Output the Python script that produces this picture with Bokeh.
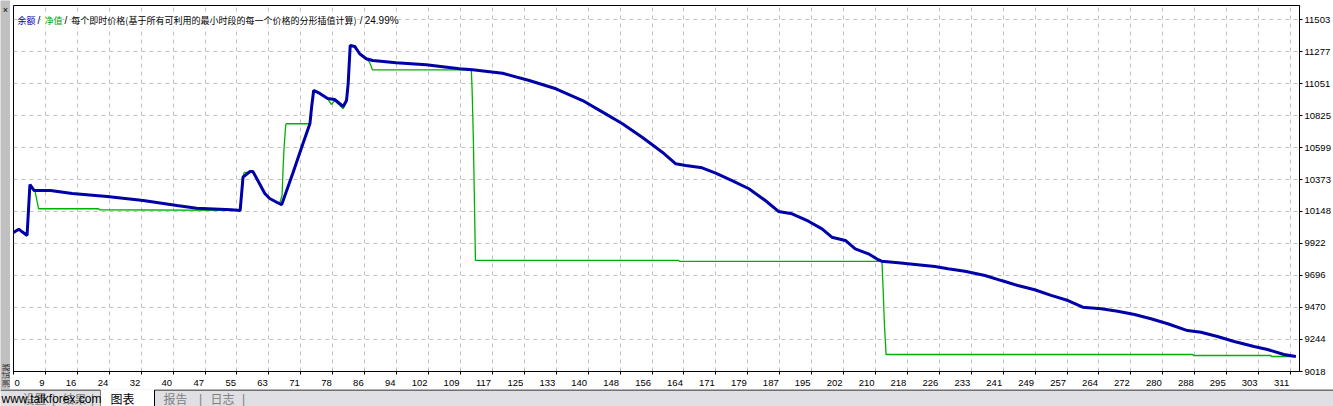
from bokeh.plotting import figure
from bokeh.models import Range1d, FixedTicker, Label
from bokeh.layouts import row, column
from bokeh.embed import file_html
from bokeh.resources import INLINE
from math import pi

# ---------------- data ----------------
balance_x = [0, 1.3, 2.1, 3.0, 3.3, 4.0, 5.0, 9.0, 14.3, 22.8, 31.6, 39.8, 44.6, 53.1, 55.2,
             55.9, 57.6, 58.3, 59.5, 61.2, 62.4, 64.1, 65.3, 68.0, 70.5, 72.2, 72.6, 73.1,
             74.6, 76.5, 78.2, 80.3, 81.1, 81.5, 82.0, 83.1, 84.3, 85.9, 87.5, 93.2, 100.5,
             108.6, 111.8, 119.1, 125.6, 132.1, 138.6, 144.2, 148.3, 153.1, 157.2, 158.0,
             161.3, 163.7, 167.7, 171.0, 175.0, 179.1, 183.1, 186.3, 189.6, 193.6, 196.9,
             199.3, 202.6, 205.0, 208.2, 210.6, 211.4, 215.5, 219.6, 224.4, 227.6, 231.7,
             236.6, 240.6, 244.6, 248.7, 252.7, 256.8, 260.4, 264.9, 268.9, 273.0, 277.0,
             281.1, 285.9, 289.2, 293.2, 297.3, 302.1, 305.4, 309.4, 312.3]
balance_y = [9999, 10023, 10004, 9985, 9978, 10338, 10296, 10296, 10275, 10253, 10225, 10190,
             10171, 10160, 10155, 10390, 10430, 10430, 10366, 10275, 10239, 10213, 10195,
             10416, 10628, 10769, 10884, 11002, 10981, 10945, 10938, 10889, 10931, 11049,
             11320, 11313, 11261, 11226, 11214, 11197, 11183, 11155, 11148, 11124, 11072,
             11014, 10931, 10837, 10767, 10672, 10583, 10566, 10484, 10472, 10456, 10418,
             10366, 10308, 10225, 10148, 10131, 10079, 10025, 9966, 9943, 9884, 9849, 9807,
             9797, 9785, 9773, 9759, 9743, 9726, 9696, 9660, 9625, 9595, 9555, 9519, 9472,
             9461, 9444, 9420, 9390, 9355, 9307, 9295, 9265, 9230, 9194, 9173, 9138, 9124]

equity_x = [0, 1.3, 2.1, 3.0, 3.3, 4.0, 5.3, 6.1, 20.7, 21.0, 55.2, 55.8, 56.2, 57.3, 58.3,
            59.5, 61.2, 62.4, 64.1, 64.8, 65.4, 65.7, 65.9, 66.3, 66.5, 72.2, 72.6, 73.1,
            74.6, 76.5, 77.4, 78.2, 80.3, 81.1, 81.5, 82.0, 83.1, 84.3, 85.9, 86.7, 87.4,
            111.5, 111.7, 112.0, 112.2, 112.5, 162.0, 162.2, 211.5, 211.8, 212.1, 212.5,
            287.2, 287.4, 306.2, 306.4, 312.3]
equity_y = [9999, 10023, 10004, 9985, 9975, 10338, 10284, 10167, 10167, 10160, 10155, 10390,
            10424, 10424, 10430, 10366, 10275, 10239, 10213, 10205, 10260, 10483, 10601,
            10762, 10767, 10767, 10884, 11002, 10981, 10945, 10903, 10931, 10873, 10931,
            11049, 11320, 11313, 11261, 11226, 11202, 11148, 11148, 10996, 10650, 10310,
            9802, 9802, 9795, 9795, 9590, 9350, 9138, 9138, 9131, 9131, 9124, 9124]

x_tick_labels = ["0", "9", "16", "24", "32", "40", "47", "55", "63", "71", "78", "86", "94",
                 "102", "109", "117", "125", "133", "140", "148", "156", "164", "171", "179",
                 "187", "195", "202", "210", "218", "226", "233", "241", "249", "257", "264",
                 "272", "280", "288", "295", "303", "311"]
y_tick_labels = ["9018", "9244", "9470", "9696", "9922", "10148", "10373", "10599", "10825",
                 "11051", "11277", "11503"]

BLUE = "#0000aa"
GREEN = "#00b000"
GRID = "#c0c0c0"
PANEL = "#e0dfe3"
STRIP = "#c0c0c0"

legend_parts = [("余额", BLUE), ("/", "black"), ("净值", "#00a000"), ("/", "black"),
                ("每个即时价格(基于所有可利用的最小时段的每一个价格的分形插值计算)", "black"),
                ("/", "black"), ("24.99%", "black")]
tab_labels = ["设置", "结果", "图表", "报告", "日志"]
watermark = "www.talkforex.com"
panel_title = "测试器"

# ---------------- scales ----------------
GRID_PX = 32
x_step = float(x_tick_labels[-1]) / (len(x_tick_labels) - 1)
px_per_x = GRID_PX / x_step
y0 = float(y_tick_labels[0])
y_step = (float(y_tick_labels[-1]) - y0) / (len(y_tick_labels) - 1)
upy = y_step / GRID_PX

FRAME_W = 1289
FRAME_H = 366
x_end = FRAME_W / px_per_x
y_end = y0 + FRAME_H * upy

p = figure(width=1323, height=386, x_range=Range1d(0, x_end), y_range=Range1d(y0, y_end),
           output_backend="svg", toolbar_location=None, title=None,
           x_axis_location="below", y_axis_location="right",
           min_border_left=3, min_border_right=31, min_border_top=2, min_border_bottom=18)
p.background_fill_color = "white"
p.border_fill_color = "white"
p.outline_line_color = "black"
p.outline_line_width = 1

# gridline positions (uniform) and label anchor positions (labels sit left of their line)
xt = [round(k * x_step, 4) for k in range(len(x_tick_labels))]
DIGIT_PX = 5.3
x_label_pos = []
for k, lab in enumerate(x_tick_labels):
    half = 1 + len(lab) * DIGIT_PX / 2
    shift = half if k == 0 else -half
    x_label_pos.append(round(xt[k] + shift / px_per_x, 4))
yt = [float(v) for v in y_tick_labels]

p.xaxis.ticker = FixedTicker(ticks=x_label_pos, minor_ticks=xt)
p.yaxis.ticker = FixedTicker(ticks=yt)
p.xgrid.ticker = FixedTicker(ticks=xt)
p.ygrid.ticker = FixedTicker(ticks=yt)
p.xaxis.major_label_overrides = {t: lab for t, lab in zip(x_label_pos, x_tick_labels)}
p.yaxis.major_label_overrides = {t: lab for t, lab in zip(yt, y_tick_labels)}

for ax in (p.xaxis[0], p.yaxis[0]):
    ax.axis_line_color = "black"
    ax.major_tick_line_color = "black"
    ax.major_tick_in = 0
    ax.major_tick_out = 3
    ax.minor_tick_line_color = None
    ax.major_label_text_font = "Liberation Sans"
    ax.major_label_text_font_size = "9.5px"
    ax.major_label_text_color = "black"
    ax.major_label_standoff = 2

xa = p.xaxis[0]
xa.major_tick_line_color = None
xa.major_tick_out = 0
xa.major_label_standoff = 5
xa.minor_tick_line_color = "black"
xa.minor_tick_in = 0
xa.minor_tick_out = 3

p.grid.grid_line_color = GRID
p.grid.grid_line_dash = "4 4"
p.grid.grid_line_width = 1

p.line(equity_x, equity_y, line_color=GREEN, line_width=1.3)
p.line(balance_x, balance_y, line_color=BLUE, line_width=3)

# legend line at the top-left
leg_px = [17, 37, 44, 64, 71, 360, 365]
leg_y = y_end - 14.5 * upy
for (txt, col), lx in zip(legend_parts, leg_px):
    cjk = any(ord(ch) > 0x2e80 for ch in txt)
    p.add_layout(Label(x=(lx - 13) / px_per_x, y=leg_y, text=txt, text_color=col,
                       text_font="Noto Sans CJK SC" if cjk else "Liberation Sans",
                       text_font_size="9px" if cjk else "10px",
                       text_align="left", text_baseline="middle",
                       background_fill_color="white"))

# ---------------- top band ----------------
top = figure(width=1323, height=3, output_backend="svg", toolbar_location=None, title=None,
             x_axis_location=None, y_axis_location=None, min_border=0,
             x_range=Range1d(0, 1), y_range=Range1d(0, 1))
top.background_fill_color = "#b8b8b8"
top.border_fill_color = "#b8b8b8"
top.outline_line_color = None
top.grid.visible = False

# ---------------- left strip ----------------
left = figure(width=10, height=389, output_backend="svg", toolbar_location=None, title=None,
              x_axis_location=None, y_axis_location=None, min_border=0,
              x_range=Range1d(0, 10), y_range=Range1d(0, 389))
left.background_fill_color = STRIP
left.border_fill_color = STRIP
left.outline_line_color = None
left.grid.visible = False
left.add_layout(Label(x=5, y=380, text="×", text_align="center", text_baseline="middle",
                      text_font="Liberation Sans", text_font_size="9px", text_color="black"))
left.add_layout(Label(x=5, y=2, text=panel_title, angle=pi / 2, text_align="left",
                      text_baseline="middle", text_font="Noto Sans CJK SC",
                      text_font_size="8px", text_color="#303030"))

# ---------------- tab band ----------------
tabs = figure(width=1333, height=17, output_backend="svg", toolbar_location=None, title=None,
              x_axis_location=None, y_axis_location=None, min_border=0,
              x_range=Range1d(0, 1333), y_range=Range1d(0, 17))
tabs.background_fill_color = PANEL
tabs.border_fill_color = PANEL
tabs.outline_line_color = None
tabs.grid.visible = False
tabs.quad(left=[100], right=[154], bottom=[-1], top=[18], fill_color="white", line_color=None)
tabs.segment(x0=[0, 154], y0=[16.5, 16.5], x1=[100, 1333], y1=[16.5, 16.5],
             line_color="black", line_width=1)
tabs.segment(x0=[154, 100], y0=[16.5, 16.5], x1=[154, 100], y1=[0, 0],
             line_color=["black", "#808080"], line_width=1)
tab_x = [22, 62, 110, 163, 210]
for t, tx in zip(tab_labels, tab_x):
    tabs.add_layout(Label(x=tx, y=8, text=t, text_align="left", text_baseline="middle",
                          text_font="Noto Sans CJK SC", text_font_size="12px",
                          text_color="black" if t == "图表" else "#808080"))
for sx in [53, 92, 200, 243]:
    tabs.add_layout(Label(x=sx, y=8, text="|", text_align="center", text_baseline="middle",
                          text_font="Liberation Sans", text_font_size="12px",
                          text_color="#808080"))
tabs.add_layout(Label(x=1, y=8, text=watermark, text_align="left", text_baseline="middle",
                      text_font="Liberation Sans", text_font_size="12px", text_color="black"))

layout = column(row(left, column(top, p, spacing=0), spacing=0), tabs, spacing=0)

open("out.html", "w").write(file_html(layout, INLINE))
